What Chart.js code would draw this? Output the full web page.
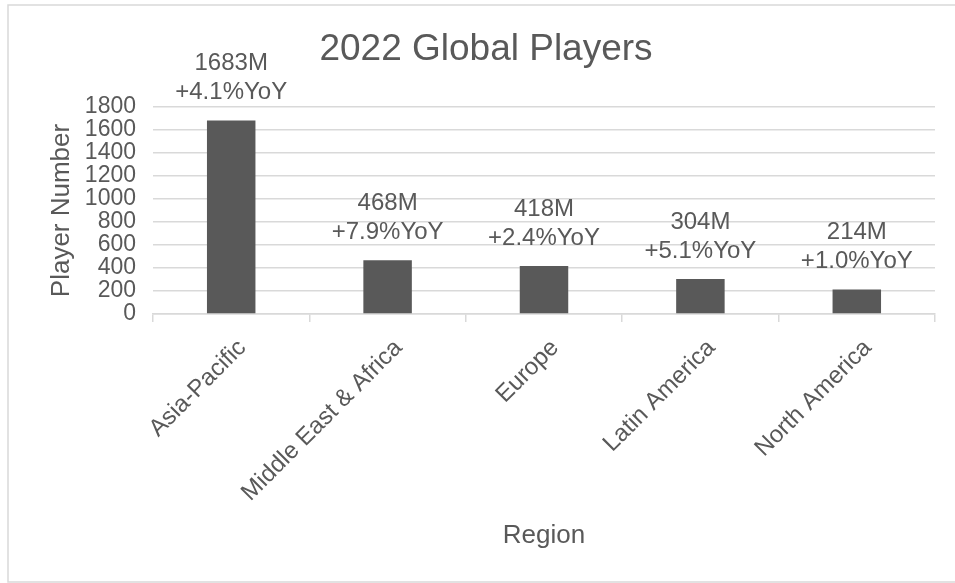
<!DOCTYPE html>
<html>
<head>
<meta charset="utf-8">
<script src="https://cdn.jsdelivr.net/npm/chart.js@4"></script>
<style>
  html, body { margin: 0; padding: 0; background: #ffffff; }
  canvas { display: block; }
</style>
</head>
<body>
<canvas id="playersChart" width="955" height="583"></canvas>
<script>
// Data
const regions = ['Asia-Pacific', 'Middle East & Africa', 'Europe', 'Latin America', 'North America'];
const players = [1683, 468, 418, 304, 214];      // millions
const yoyGrowth = [4.1, 7.9, 2.4, 5.1, 1.0];     // percent
const yMin = 0;
const yMax = 1800;
const yStep = 200;

const textColor = '#595959';
const gridColor = '#d9d9d9';
const fontFamily = "'Liberation Sans', Arial, Helvetica, sans-serif";

// Draws the two-line value labels above each bar plus the frame round the chart
const barLabels = {
    id: 'barLabels',
    beforeDraw(chart) {
        const ctx = chart.ctx;
        ctx.save();
        ctx.strokeStyle = gridColor;
        ctx.lineWidth = 1.5;
        ctx.strokeRect(8, 5, chart.width + 20, 577);
        ctx.restore();
    },
    afterDatasetsDraw(chart) {
        const ctx = chart.ctx;
        const meta = chart.getDatasetMeta(0);
        ctx.save();
        ctx.fillStyle = textColor;
        ctx.font = '24px ' + fontFamily;
        ctx.textAlign = 'center';
        ctx.textBaseline = 'middle';
        meta.data.forEach((bar, i) => {
            ctx.fillText(players[i] + 'M', bar.x, bar.y - 57);
            ctx.fillText('+' + yoyGrowth[i].toFixed(1) + '%YoY', bar.x, bar.y - 28);
        });
        ctx.restore();
    }
};

const ctx = document.getElementById('playersChart').getContext('2d');
new Chart(ctx, {
    type: 'bar',
    data: {
        labels: regions,
        datasets: [{
            label: 'Player Number',
            data: players,
            backgroundColor: '#595959',
            borderWidth: 0,
            barPercentage: 0.31,
            categoryPercentage: 1
        }]
    },
    options: {
        responsive: false,
        animation: false,
        layout: {
            padding: { left: 37, right: 20, top: 0, bottom: 0 }
        },
        plugins: {
            legend: { display: false },
            tooltip: { enabled: false },
            title: {
                display: true,
                text: '2022 Global Players',
                color: textColor,
                font: { family: fontFamily, size: 37, weight: 'normal', lineHeight: 1.2 },
                padding: { top: 28, bottom: 34.6 }
            }
        },
        scales: {
            x: {
                grid: {
                    offset: true,
                    drawOnChartArea: false,
                    drawTicks: true,
                    tickLength: 8,
                    color: gridColor,
                    lineWidth: 1.5
                },
                border: { display: true, color: gridColor, width: 1.5 },
                ticks: {
                    color: textColor,
                    font: { family: fontFamily, size: 24 },
                    maxRotation: 45,
                    minRotation: 45,
                    autoSkip: false,
                    padding: 12,
                    labelOffset: 11
                },
                title: {
                    display: true,
                    text: 'Region',
                    color: textColor,
                    font: { family: fontFamily, size: 26 },
                    padding: { top: 0, bottom: 32 }
                },
                afterFit(scale) {
                    scale.height = 269;
                }
            },
            y: {
                min: yMin,
                max: yMax,
                grid: {
                    drawTicks: false,
                    color: gridColor,
                    lineWidth: 1.5
                },
                border: { display: false },
                ticks: {
                    stepSize: yStep,
                    autoSkip: false,
                    color: textColor,
                    font: { family: fontFamily, size: 23 },
                    padding: 17,
                    callback: (value) => String(value)
                },
                title: {
                    display: true,
                    text: 'Player Number',
                    color: textColor,
                    font: { family: fontFamily, size: 26 },
                    padding: { top: 9, bottom: 0 }
                },
                afterFit(scale) {
                    scale.width = 116;
                }
            }
        }
    },
    plugins: [barLabels]
});
</script>
</body>
</html>
